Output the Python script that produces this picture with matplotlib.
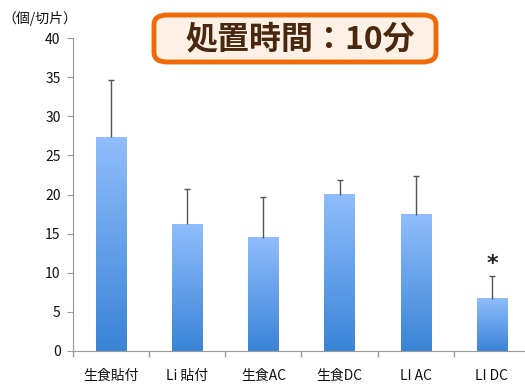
import numpy as np
import matplotlib.pyplot as plt
from matplotlib.colors import LinearSegmentedColormap
from matplotlib.patches import FancyBboxPatch

plt.rcParams['font.family'] = ['Noto Sans CJK JP', 'DejaVu Sans']

# 10分処置の結果
groups = ['生食貼付', 'Li 貼付', '生食AC', '生食DC', 'LI AC', 'LI DC']
means = [27.3, 16.2, 14.5, 20.0, 17.4, 6.7]
errs = [7.3, 4.5, 5.2, 1.9, 5.0, 2.9]
yticks = [0, 5, 10, 15, 20, 25, 30, 35, 40]

fig = plt.figure(figsize=(5.25, 3.84), dpi=100)
ax = fig.add_axes([73 / 525, 33 / 384, 457 / 525, 313 / 384])

# bars with a vertical blue gradient
cmap = LinearSegmentedColormap.from_list('bar', ['#3a84d6', '#90bdfc'])
grad = np.linspace(0, 1, 256).reshape(-1, 1)
width = 0.4
x = np.arange(len(groups))
bars = ax.bar(x, means, width=width, color='none', edgecolor='none')
for b in bars:
    x0, y0 = b.get_x(), b.get_y()
    ax.imshow(grad, cmap=cmap, origin='lower', aspect='auto',
              extent=[x0, x0 + b.get_width(), y0, y0 + b.get_height()], zorder=2)

# upper error bars only
tops = np.array(means) + np.array(errs)
ax.vlines(x, means, tops, color='#555555', linewidth=1, zorder=3)
ax.plot(x, tops, linestyle='none', marker='_', markersize=4, markeredgewidth=1,
        color='#555555', zorder=3)

ax.text(x[-1], tops[-1] + 1.5, '*', ha='center', va='center',
        fontsize=16, fontweight='bold', color='#222222', family='DejaVu Sans')

ax.set_xlim(-0.5, len(groups) - 0.5)
ax.set_ylim(0, 40)
ax.set_yticks(yticks)
ax.set_xticks(x)
ax.set_xticklabels(groups)
ax.set_xticks(np.arange(len(groups) + 1) - 0.5, minor=True)
ax.tick_params(axis='x', which='major', length=0, pad=13, labelsize=10, colors='#111111')
ax.tick_params(axis='x', which='minor', length=4, color='#999999', width=1)
ax.tick_params(axis='y', length=4, color='#999999', pad=5, labelsize=10, labelcolor='#111111')
for s in ['top', 'right']:
    ax.spines[s].set_visible(False)
for s in ['left', 'bottom']:
    ax.spines[s].set_color('#999999')

fig.text(40 / 525, 1 - 18 / 384, '（個/切片）', ha='center', va='center', fontsize=10, color='#111111')

# title box
box = FancyBboxPatch((154 / 525, 1 - 62 / 384), 282 / 525, 47 / 384,
                     boxstyle='round,pad=0,rounding_size=0.025', transform=fig.transFigure,
                     facecolor='#fdf0e4', edgecolor='#f06a0a', linewidth=3.5)
fig.patches.append(box)
fig.text(300 / 525, 1 - 39 / 384, '処置時間：10分', ha='center', va='center',
         fontsize=23, fontweight='bold', color='#4a2810')

fig.savefig('out.png', dpi=100)
